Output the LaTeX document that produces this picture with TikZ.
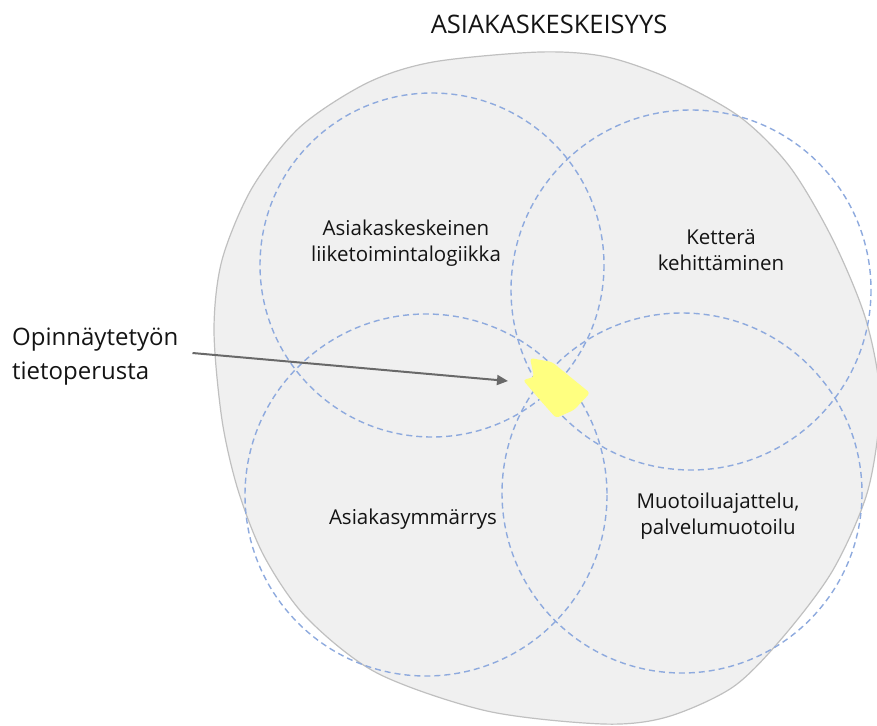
\documentclass[tikz,border=0pt]{standalone}
\usepackage{fontspec}
\setmainfont{Open Sans}
\usetikzlibrary{positioning,arrows.meta}
\definecolor{blobgray}{RGB}{240,240,240}
\definecolor{blobedge}{RGB}{192,192,192}
\definecolor{ringblue}{RGB}{142,170,222}
\definecolor{patchyellow}{RGB}{255,255,128}
\definecolor{arrowgray}{RGB}{105,105,105}
\definecolor{inkgray}{RGB}{20,20,20}

\begin{document}
\begin{tikzpicture}[x=1pt,y=-1pt,
    ring/.style={draw=ringblue,line width=1.4pt,dash pattern=on 6pt off 4pt},
    lbl/.style={align=center,inner sep=0pt,text=inkgray,font=\fontsize{20.5}{26}\selectfont}]
  \useasboundingbox (0,0) rectangle (877,725);
  % outer area
  \draw[blobedge,fill=blobgray,line width=1.2pt] plot[smooth cycle,tension=0.5] coordinates {
    (433,62) (540,52) (607,57) (673,80) (740,117) (790,167) (833,240) (866,320)
    (880,400) (868,490) (833,570) (783,637) (733,687) (667,717) (603,724) (487,711)
    (377,673) (306,617) (264,556) (238,490) (222,420) (214,330) (222,260) (252,188)
    (300,127) (367,83)};
  % four circles
  \draw[ring] (432,265) circle (172);
  \draw[ring] (691,290) circle (180);
  \draw[ring] (426,495) circle (181);
  \draw[ring] (682,493) circle (180);
  % common part
  \fill[patchyellow,rounded corners=3pt] (530,358) -- (552,362) -- (590,393) -- (574,410)
    -- (556,418) -- (540,400) -- (523,380) -- (534,377) -- cycle;
  % texts
  \node[inner sep=0pt,text=inkgray,font=\fontsize{25.5}{30}\selectfont] (otsikko) at (549,24) {ASIAKASKESKEISYYS};
  \node[lbl] (liiketoiminta) at (406,243) {Asiakaskeskeinen\\liiketoimintalogiikka};
  \node[lbl] (ketteryys) at (721,250) {Ketterä\\kehittäminen};
  \node[lbl] (ymmarrys) at (413,519) {Asiakasymmärrys};
  \node[lbl] (muotoilu) at (718,516) {Muotoiluajattelu,\\palvelumuotoilu};
  \node[anchor=west,align=left,inner sep=0pt,text=inkgray,font=\fontsize{24}{34}\selectfont] (tietoperusta) at (12,357) {Opinnäytetyön\\tietoperusta};
  \coordinate (kohde) at (508,381);
  \draw[arrowgray,line width=2pt,-{Triangle[length=11pt,width=10pt]}] ([xshift=14pt,yshift=4pt]tietoperusta.east) -- (kohde);
\end{tikzpicture}
\end{document}
